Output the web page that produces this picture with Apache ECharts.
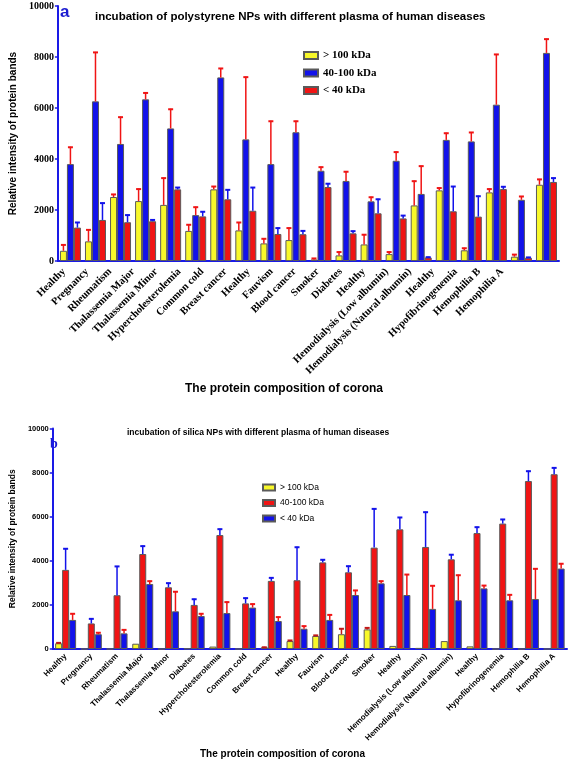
<!DOCTYPE html>
<html>
<head>
<meta charset="utf-8">
<script src="https://cdn.jsdelivr.net/npm/echarts@6/dist/echarts.min.js"></script>
<style>
html,body{margin:0;padding:0;background:#fff;}
#chart{width:576px;height:763px;}
</style>
</head>
<body>
<div id="chart"></div>
<script>
// ---------- Data ----------
const categoriesA = ['Healthy','Pregnancy','Rheumatism','Thalassemia Major','Thalassemia Minor','Hypercholesterolemia','Common cold','Breast cancer','Healthy','Fauvism','Blood cancer','Smoker','Diabetes','Healthy','Hemodialysis (Low albumin)','Hemodialysis (Natural albumin)','Healthy','Hypofibrinogenemia','Hemophilia B','Hemophilia A'];
const categoriesB = ['Healthy','Pregnancy','Rheumatism','Thalassemia Major','Thalassemia Minor','Diabetes','Hypercholesterolemia','Common cold','Breast cancer','Healthy','Fauvism','Blood cancer','Smoker','Healthy','Hemodialysis (Low albumin)','Hemodialysis (Natural albumin)','Healthy','Hypofibrinogenemia','Hemophilia B','Hemophilia A'];
const seriesNames = ['> 100 kDa','40-100 kDa','< 40 kDa'];
const yTicks = [0,2000,4000,6000,8000,10000];

// Panel a (polystyrene): >100, 40-100, <40 and the top of each error bar
const a_gt100 = [400,770,2510,2350,2200,1180,2810,1200,690,820,60,220,650,270,2180,2770,420,2690,170,2990];
const a_gt100_err = [650,1240,2630,2840,3270,1440,2940,1530,890,1310,120,370,1050,370,3150,2880,520,2840,270,3220];
const a_mid = [3800,6260,4590,6340,5200,1800,7200,4770,3800,5050,3540,3140,2340,3930,2630,4750,4690,6130,2400,8160];
const a_mid_err = [4480,8200,5660,6610,5970,2130,7570,7230,5500,5500,3700,3520,2520,4290,3740,5030,5060,8120,2550,8720];
const a_lt40 = [1310,1610,1520,1560,2810,1750,2420,1970,1060,1050,2900,1085,1870,1670,140,1950,1740,2820,130,3100];
const a_lt40_err = [1530,2290,1820,1630,2900,1950,2810,2900,1310,1200,3050,1190,2440,1800,170,2940,2560,2930,160,3270];

// Panel b (silica)
const b_gt100 = [260,0,0,240,0,20,110,0,80,360,590,670,890,140,50,360,120,0,0,0];
const b_gt100_err = [300,0,0,240,0,20,110,0,100,410,640,940,980,140,50,360,120,0,0,0];
const b_mid = [3590,1160,2440,4310,2800,2000,5170,2070,3090,3120,3930,3480,4600,5430,4630,4070,5260,5690,7620,7930];
const b_mid_err = [4570,1390,3770,4690,3010,2280,5460,2330,3250,4640,4070,3780,6380,5990,6230,4300,5550,5900,8090,8240];
const b_lt40 = [1320,670,710,2950,1710,1500,1630,1880,1270,920,1320,2450,2980,2450,1820,2210,2750,2210,2270,3650];
const b_lt40_err = [1620,760,890,3100,2620,1620,2150,2060,1470,1060,1570,2680,3100,3400,2890,3370,2900,2480,3660,3890];

// ---------- Styles ----------
const YELLOW = '#f8f82a', BLUE = '#1212ea', RED = '#f01414', AXIS = '#1a1ae6', BORDER = '#5a5a5a';
const SANS = '"Liberation Sans", Arial, sans-serif';
const SERIF = '"Liberation Serif", "Times New Roman", serif';
const BW = 7;
const plain = v => String(v);

function bar(name, data, color, gridIdx) {
  return {
    type: 'bar', name: name, data: data,
    xAxisIndex: gridIdx, yAxisIndex: gridIdx,
    barWidth: BW, barGap: '0%',
    itemStyle: { color: color, borderColor: BORDER, borderWidth: 1 },
    z: 2
  };
}
function err(id, vals, tops, offset, color, gridIdx) {
  return {
    type: 'custom', name: id,
    xAxisIndex: gridIdx, yAxisIndex: gridIdx,
    data: vals.map((v, i) => [i, v, tops[i]]),
    encode: { x: 0, y: [1, 2] },
    z: 5, silent: true,
    renderItem: function (params, api) {
      const v = api.value(1), t = api.value(2);
      if (!(t > v)) return null;
      const b = api.coord([api.value(0), v]);
      const p = api.coord([api.value(0), t]);
      const x = b[0] + offset;
      return {
        type: 'group',
        children: [
          { type: 'line', shape: { x1: x, y1: b[1], x2: x, y2: p[1] }, style: { stroke: color, lineWidth: 1.5 } },
          { type: 'line', shape: { x1: x - 2.5, y1: p[1] + 0.5, x2: x + 2.5, y2: p[1] + 0.5 }, style: { stroke: color, lineWidth: 2 } }
        ]
      };
    }
  };
}

const bNames = seriesNames.map(n => n + ' ');

const option = {
  animation: false,
  backgroundColor: '#fff',
  grid: [
    { left: 50, top: 6, width: 509, height: 255 },
    { left: 50, top: 428.6, width: 517, height: 220.4 },
    { left: 52.5, top: 6, width: 461, height: 255 }
  ],
  xAxis: [
    { type: 'category', gridIndex: 0, data: categoriesA,
      axisLine: { lineStyle: { color: AXIS, width: 2 } },
      axisTick: { alignWithLabel: true, length: 5, lineStyle: { color: AXIS, width: 1.5 } },
      axisLabel: { show: false } },
    { type: 'category', gridIndex: 1, data: categoriesB,
      axisLine: { lineStyle: { color: AXIS, width: 2 } },
      axisTick: { alignWithLabel: true, length: 4, lineStyle: { color: AXIS, width: 1.5 } },
      axisLabel: { interval: 0, rotate: 45, margin: 6, fontFamily: SANS, fontWeight: 'bold', fontSize: 8, color: '#000' } },
    { type: 'category', gridIndex: 2, data: categoriesA,
      axisLine: { show: false }, axisTick: { show: false },
      axisLabel: { interval: 0, rotate: 45, margin: 9, fontFamily: SERIF, fontWeight: 'bold', fontSize: 10.5, color: '#000' } }
  ],
  yAxis: [
    { type: 'value', gridIndex: 0, min: yTicks[0], max: yTicks[yTicks.length - 1], interval: 2000,
      name: 'Relative intensity of protein bands', nameLocation: 'middle', nameGap: 38,
      nameTextStyle: { fontFamily: SANS, fontWeight: 'bold', fontSize: 10, color: '#000' },
      axisLine: { show: true, lineStyle: { color: AXIS, width: 2 } },
      axisTick: { show: true, length: 3, lineStyle: { color: AXIS, width: 1.5 } },
      axisLabel: { margin: 4, fontFamily: SERIF, fontWeight: 'bold', fontSize: 10, color: '#000', formatter: plain },
      splitLine: { show: false } },
    { type: 'value', gridIndex: 1, min: yTicks[0], max: yTicks[yTicks.length - 1], interval: 2000,
      name: 'Relative intensity of protein bands', nameLocation: 'middle', nameGap: 32,
      nameTextStyle: { fontFamily: SANS, fontWeight: 'bold', fontSize: 8.5, color: '#000' },
      axisLine: { show: true, lineStyle: { color: AXIS, width: 2 } },
      axisTick: { show: true, length: 3, lineStyle: { color: AXIS, width: 1.5 } },
      axisLabel: { margin: 4, fontFamily: SANS, fontWeight: 'bold', fontSize: 7.5, color: '#000', formatter: plain },
      splitLine: { show: false } },
    { type: 'value', gridIndex: 2, min: 0, max: 10000, show: false }
  ],
  legend: [
    { data: seriesNames, orient: 'vertical', left: 298, top: 45, itemWidth: 14, itemHeight: 7, itemGap: 6.5,
      icon: 'rect', textStyle: { fontFamily: SERIF, fontWeight: 'bold', fontSize: 11, color: '#000' } },
    { data: bNames, orient: 'vertical', left: 257, top: 478, itemWidth: 12, itemHeight: 6, itemGap: 6.5,
      icon: 'rect', textStyle: { fontFamily: SANS, fontSize: 8.5, color: '#000' } }
  ],
  graphic: [
    { type: 'text', left: 60, top: 4, style: { text: 'a', fill: '#1a1ad0', font: 'bold 17px ' + SANS } },
    { type: 'text', left: 95, top: 11, style: { text: 'incubation of polystyrene NPs with different plasma of human diseases', fill: '#000', font: 'bold 11.5px ' + SANS } },
    { type: 'text', left: 185, top: 383, style: { text: 'The protein composition of corona', fill: '#000', font: 'bold 12px ' + SANS } },
    { type: 'text', left: 50, top: 437, style: { text: 'b', fill: '#1a1ad0', font: 'bold 14px ' + SERIF } },
    { type: 'text', left: 127, top: 428, style: { text: 'incubation of silica NPs with different plasma of human diseases', fill: '#000', font: 'bold 8.5px ' + SANS } },
    { type: 'text', left: 200, top: 749, style: { text: 'The protein composition of corona', fill: '#000', font: 'bold 10px ' + SANS } }
  ],
  series: [
    bar(seriesNames[0], a_gt100, YELLOW, 0),
    bar(seriesNames[1], a_mid, BLUE, 0),
    bar(seriesNames[2], a_lt40, RED, 0),
    err('errA0', a_gt100, a_gt100_err, -BW, RED, 0),
    err('errA1', a_mid, a_mid_err, 0, RED, 0),
    err('errA2', a_lt40, a_lt40_err, BW, BLUE, 0),
    bar(bNames[0], b_gt100, YELLOW, 1),
    bar(bNames[1], b_mid, RED, 1),
    bar(bNames[2], b_lt40, BLUE, 1),
    err('errB0', b_gt100, b_gt100_err, -BW, '#c01818', 1),
    err('errB1', b_mid, b_mid_err, 0, BLUE, 1),
    err('errB2', b_lt40, b_lt40_err, BW, RED, 1)
  ]
};

const chart = echarts.init(document.getElementById('chart'), null, { renderer: 'canvas' });
chart.setOption(option);
</script>
</body>
</html>
